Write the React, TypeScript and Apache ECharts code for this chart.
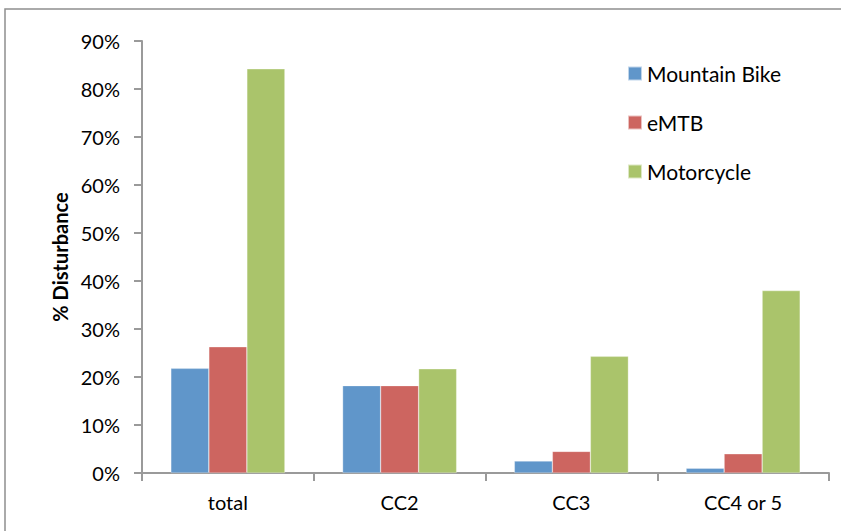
import React, { useEffect, useRef } from "react";
import * as echarts from "echarts";

const categories = ["total", "CC2", "CC3", "CC4 or 5"];
const mountainBike = [21.8, 18.2, 2.5, 1.0];
const eMTB = [26.3, 18.2, 4.5, 4.0];
const motorcycle = [84.2, 21.7, 24.3, 38.0];
const seriesNames = ["Mountain Bike", "eMTB", "Motorcycle"];
const colors = ["#6096CA", "#CD6560", "#AAC46B"];

const FONT = "Lato, 'Open Sans', sans-serif";

export default function App() {
  const ref = useRef<HTMLDivElement>(null);
  useEffect(() => {
    if (!ref.current) return;
    const chart = echarts.init(ref.current, undefined, { renderer: "svg" });
    const mk = (name: string, data: number[], color: string) => ({
      name,
      type: "bar",
      data,
      barGap: "0%",
      barCategoryGap: "33.6%",
      itemStyle: { color, borderColor: "rgba(255,255,255,0.6)", borderWidth: 0.5 },
    });
    chart.setOption({
      animation: false,
      backgroundColor: "#ffffff",
      textStyle: { fontFamily: FONT },
      color: colors,
      graphic: [
        {
          type: "rect",
          shape: { x: 5, y: 9, width: 900, height: 600 },
          style: { fill: "none", stroke: "#8f8f8f", lineWidth: 1.5 },
          silent: true,
        },
      ],
      grid: { left: 142, top: 41, right: 12, bottom: 58, containLabel: false },
      legend: {
        orient: "vertical",
        left: 622,
        top: 58,
        icon: "rect",
        itemWidth: 14,
        itemHeight: 14,
        itemGap: 28,
        textStyle: { fontFamily: FONT, fontSize: 21, color: "#000" },
        data: seriesNames,
      },
      xAxis: {
        type: "category",
        data: categories,
        axisLine: { lineStyle: { color: "#9a9a9a", width: 2 } },
        axisTick: { show: true, length: 8, lineStyle: { color: "#9a9a9a", width: 2 } },
        axisLabel: { color: "#000", fontSize: 20, margin: 19, fontFamily: FONT },
      },
      yAxis: {
        type: "value",
        min: 0,
        max: 90,
        interval: 10,
        name: "% Disturbance",
        nameLocation: "middle",
        nameGap: 71,
        nameTextStyle: { fontWeight: "bold", fontSize: 20, color: "#000", fontFamily: FONT },
        axisLine: { show: true, lineStyle: { color: "#9a9a9a", width: 2 } },
        axisTick: { show: true, length: 8, lineStyle: { color: "#9a9a9a", width: 2 } },
        splitLine: { show: false },
        axisLabel: { formatter: "{value}%", color: "#000", fontSize: 20, margin: 22, fontFamily: FONT },
      },
      series: [
        mk(seriesNames[0], mountainBike, colors[0]),
        mk(seriesNames[1], eMTB, colors[1]),
        mk(seriesNames[2], motorcycle, colors[2]),
      ],
    });
    return () => chart.dispose();
  }, []);
  return (
    <div
      ref={ref}
      style={{ position: "fixed", left: 0, top: 0, width: 841, height: 531, background: "#fff" }}
    />
  );
}
